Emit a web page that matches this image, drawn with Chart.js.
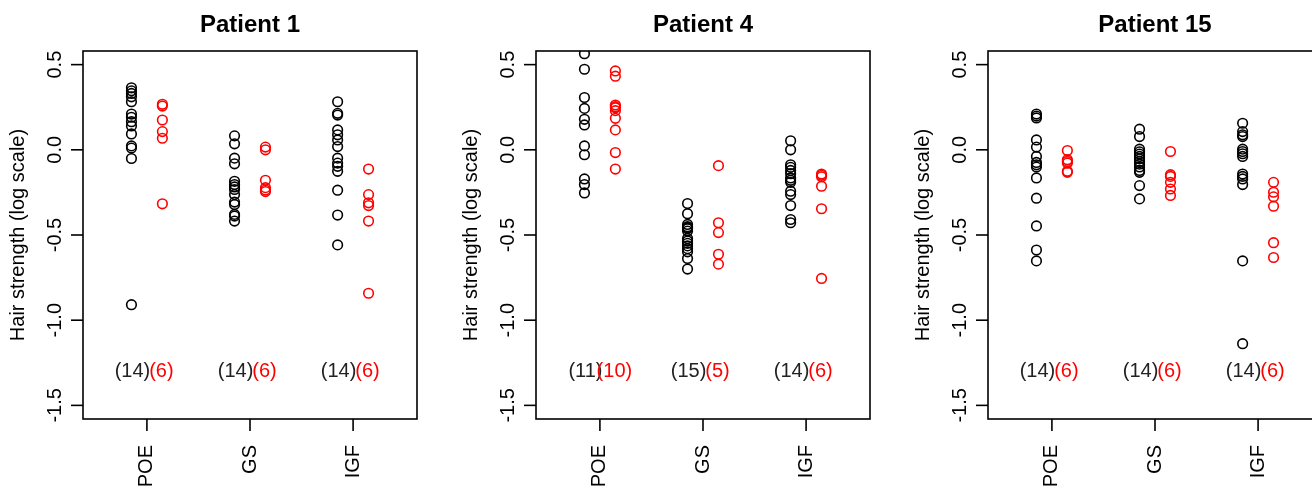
<!DOCTYPE html>
<html>
<head>
<meta charset="utf-8">
<script src="https://cdn.jsdelivr.net/npm/chart.js@4.4.1/dist/chart.umd.min.js"></script>
<style>
html,body{margin:0;padding:0;background:#fff;overflow:hidden;width:1312px;height:488px;}
.wrap{position:absolute;top:0;width:453px;height:488px;}
canvas{display:block;}
</style>
</head>
<body>
<div class="wrap" style="left:0px"><canvas id="c0" width="453" height="488"></canvas></div>
<div class="wrap" style="left:453px"><canvas id="c1" width="453" height="488"></canvas></div>
<div class="wrap" style="left:905px"><canvas id="c2" width="453" height="488"></canvas></div>
<script>
// ---- data ----
const categories = ['POE', 'GS', 'IGF'];
const patientTitles = ['Patient 1', 'Patient 4', 'Patient 15'];
const yTicks = [-1.5, -1.0, -0.5, 0.0, 0.5];
const yAxisTitle = 'Hair strength (log scale)';

// Patient 1
const p1_POE_black = [0.364, 0.346, 0.331, 0.311, 0.282, 0.210, 0.191, 0.165, 0.140, 0.093, 0.023, 0.010, -0.051, -0.909];
const p1_POE_red   = [0.267, 0.257, 0.175, 0.107, 0.068, -0.317];
const p1_GS_black  = [0.082, 0.035, -0.049, -0.082, -0.185, -0.204, -0.218, -0.233, -0.263, -0.307, -0.321, -0.379, -0.389, -0.418];
const p1_GS_red    = [0.016, 0.000, -0.179, -0.222, -0.236, -0.245];
const p1_IGF_black = [0.282, 0.214, 0.204, 0.117, 0.088, 0.058, 0.019, -0.049, -0.078, -0.097, -0.126, -0.237, -0.383, -0.558];
const p1_IGF_red   = [-0.113, -0.263, -0.311, -0.327, -0.418, -0.842];
// Patient 4
const p4_POE_black = [0.564, 0.473, 0.307, 0.243, 0.179, 0.146, 0.023, -0.029, -0.171, -0.204, -0.253];
const p4_POE_red   = [0.463, 0.432, 0.263, 0.253, 0.247, 0.230, 0.185, 0.117, -0.016, -0.113];
const p4_GS_black  = [-0.315, -0.375, -0.438, -0.451, -0.457, -0.463, -0.477, -0.521, -0.535, -0.549, -0.564, -0.580, -0.599, -0.638, -0.700];
const p4_GS_red    = [-0.093, -0.428, -0.486, -0.613, -0.671];
const p4_IGF_black = [0.053, 0.000, -0.088, -0.103, -0.121, -0.140, -0.165, -0.179, -0.191, -0.243, -0.263, -0.327, -0.409, -0.428];
const p4_IGF_red   = [-0.142, -0.150, -0.158, -0.214, -0.346, -0.755];
// Patient 15
const p15_POE_black = [0.210, 0.198, 0.187, 0.058, 0.016, -0.039, -0.074, -0.088, -0.101, -0.165, -0.284, -0.447, -0.588, -0.652];
const p15_POE_red   = [-0.004, -0.058, -0.068, -0.078, -0.126, -0.132];
const p15_GS_black  = [0.121, 0.078, 0.004, -0.012, -0.025, -0.039, -0.053, -0.068, -0.084, -0.101, -0.121, -0.132, -0.210, -0.288];
const p15_GS_red    = [-0.010, -0.146, -0.156, -0.191, -0.230, -0.268];
const p15_IGF_black = [0.156, 0.107, 0.088, 0.078, 0.004, -0.010, -0.023, -0.039, -0.142, -0.156, -0.171, -0.204, -0.652, -1.138];
const p15_IGF_red   = [-0.191, -0.249, -0.276, -0.331, -0.545, -0.632];

const panels = [
  { title: patientTitles[0], black: [p1_POE_black, p1_GS_black, p1_IGF_black], red: [p1_POE_red, p1_GS_red, p1_IGF_red] },
  { title: patientTitles[1], black: [p4_POE_black, p4_GS_black, p4_IGF_black], red: [p4_POE_red, p4_GS_red, p4_IGF_red] },
  { title: patientTitles[2], black: [p15_POE_black, p15_GS_black, p15_IGF_black], red: [p15_POE_red, p15_GS_red, p15_IGF_red] }
];

const FONT = '"Liberation Sans", Arial, Helvetica, sans-serif';
const OFFSET = 0.15;
const COUNT_Y = -1.3;

function toPoints(arrs, off) {
  const pts = [];
  arrs.forEach((a, i) => a.forEach(v => pts.push({ x: i + 1 + off, y: v })));
  return pts;
}

const rStyle = {
  id: 'rStyle',
  afterDraw(chart, args, opts) {
    const ctx = chart.ctx;
    const ca = chart.chartArea;
    const xs = chart.scales.x, ys = chart.scales.y;
    const p = opts.panel;
    ctx.save();
    ctx.strokeStyle = '#000';
    ctx.fillStyle = '#000';
    ctx.lineWidth = 1.6;
    // box
    ctx.strokeRect(ca.left, ca.top, ca.right - ca.left, ca.bottom - ca.top);
    // y ticks
    ctx.font = '20px ' + FONT;
    yTicks.forEach(t => {
      const y = ys.getPixelForValue(t);
      ctx.beginPath();
      ctx.moveTo(ca.left - 12, y);
      ctx.lineTo(ca.left, y);
      ctx.stroke();
      ctx.save();
      ctx.translate(ca.left - 28, y);
      ctx.rotate(-Math.PI / 2);
      ctx.textAlign = 'center';
      ctx.textBaseline = 'middle';
      ctx.fillText(t.toFixed(1), 0, 0);
      ctx.restore();
    });
    // x ticks
    categories.forEach((c, i) => {
      const x = xs.getPixelForValue(i + 1);
      ctx.beginPath();
      ctx.moveTo(x, ca.bottom);
      ctx.lineTo(x, ca.bottom + 12);
      ctx.stroke();
      ctx.save();
      ctx.translate(x, ca.bottom + 26);
      ctx.rotate(-Math.PI / 2);
      ctx.textAlign = 'right';
      ctx.textBaseline = 'middle';
      ctx.fillText(c, 0, 0);
      ctx.restore();
    });
    // y axis title
    ctx.save();
    ctx.translate(ca.left - 65, (ca.top + ca.bottom) / 2);
    ctx.rotate(-Math.PI / 2);
    ctx.textAlign = 'center';
    ctx.textBaseline = 'middle';
    ctx.fillText(yAxisTitle, 0, 0);
    ctx.restore();
    // counts
    ctx.textAlign = 'center';
    ctx.textBaseline = 'middle';
    const cy = ys.getPixelForValue(COUNT_Y);
    categories.forEach((c, i) => {
      ctx.fillStyle = '#222';
      ctx.fillText('(' + p.black[i].length + ')', xs.getPixelForValue(i + 1 - OFFSET) + 1, cy);
      ctx.fillStyle = '#ff0000';
      ctx.fillText('(' + p.red[i].length + ')', xs.getPixelForValue(i + 1 + OFFSET) - 1, cy);
    });
    // title
    ctx.fillStyle = '#000';
    ctx.font = 'bold 24px ' + FONT;
    ctx.textAlign = 'center';
    ctx.textBaseline = 'alphabetic';
    ctx.fillText(p.title, (ca.left + ca.right) / 2, 32);
    ctx.restore();
  }
};

panels.forEach((p, idx) => {
  new Chart(document.getElementById('c' + idx), {
    type: 'scatter',
    data: {
      datasets: [
        { data: toPoints(p.black, -OFFSET), borderColor: '#000', backgroundColor: 'rgba(0,0,0,0)', pointRadius: 4.8, pointBorderWidth: 1.6, clip: 0 },
        { data: toPoints(p.red, OFFSET), borderColor: '#ff0000', backgroundColor: 'rgba(0,0,0,0)', pointRadius: 4.8, pointBorderWidth: 1.6, clip: 0 }
      ]
    },
    options: {
      responsive: false,
      animation: false,
      events: [],
      layout: { padding: { left: 83, right: 36, top: 51, bottom: 69 } },
      plugins: { legend: { display: false }, tooltip: { enabled: false }, rStyle: { panel: p } },
      scales: {
        x: { type: 'linear', min: 0.38, max: 3.62, display: false },
        y: { type: 'linear', min: -1.58, max: 0.58, display: false }
      }
    },
    plugins: [rStyle]
  });
});
</script>
</body>
</html>
